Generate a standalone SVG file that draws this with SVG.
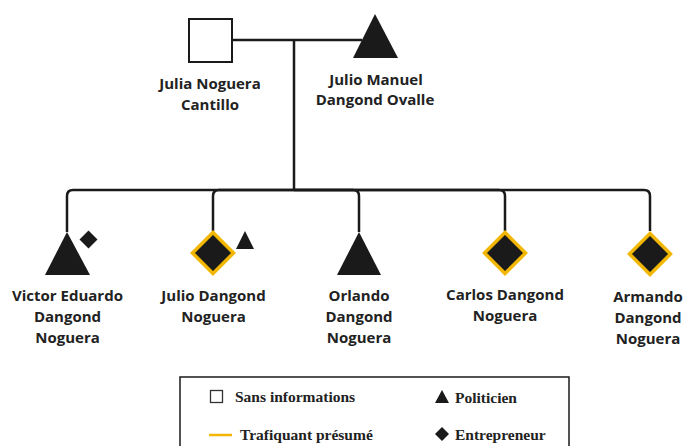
<svg xmlns="http://www.w3.org/2000/svg" width="684" height="446" viewBox="0 0 684 446">
<style>
.bg{fill:#ffffff}
.line{fill:none;stroke:#1a1a1a;stroke-width:2.5;stroke-linejoin:round}
.dark{fill:#1a1a1a}
.trafic{fill:#1a1a1a;stroke:#f2b705;stroke-width:3.5;stroke-linejoin:miter}
.empty{fill:#ffffff;stroke:#1a1a1a;stroke-width:2}
.name{font-family:"Open Sans","Noto Sans",sans-serif;font-weight:bold;font-size:15px;fill:#222222;text-anchor:middle}
.leg{font-family:"Liberation Serif","Times New Roman",serif;font-weight:bold;font-size:15.5px;fill:#222222}
</style>
<rect class="bg" x="0" y="0" width="684" height="446"/>
<g id="connectors">
<path class="line" d="M232,40 H362"/>
<path class="line" d="M294,40 V190"/>
<path class="line" d="M294,190 H73 Q67,190 67,196 V232"/>
<path class="line" d="M294,190 H219 Q213,190 213,196 V231"/>
<path class="line" d="M294,190 H353 Q359,190 359,196 V232"/>
<path class="line" d="M294,190 H499 Q505,190 505,196 V231"/>
<path class="line" d="M294,190 H644 Q650,190 650,196 V231"/>
</g>
<g id="julia">
<rect class="empty" x="189" y="19" width="43" height="43"/>
<text class="name" x="210" y="89">Julia Noguera</text>
<text class="name" x="210" y="110">Cantillo</text>
</g>
<g id="julio-manuel">
<polygon class="dark" points="375,14 353,58 398,58"/>
<text class="name" x="376" y="85">Julio Manuel</text>
<text class="name" x="375" y="105">Dangond Ovalle</text>
</g>
<g id="victor">
<polygon class="dark" points="67,232 45,275 90,275"/>
<polygon class="dark" points="88.5,230.5 97.5,239.5 88.5,248.5 79.5,239.5"/>
<text class="name" x="67.5" y="301">Victor Eduardo</text>
<text class="name" x="67.5" y="322">Dangond</text>
<text class="name" x="67.5" y="343">Noguera</text>
</g>
<g id="julio-dangond">
<polygon class="trafic" points="213,232.5 233.5,253 213,273.5 192.5,253"/>
<polygon class="dark" points="245,231 254,249 236,249"/>
<text class="name" x="213.5" y="301">Julio Dangond</text>
<text class="name" x="213.5" y="322">Noguera</text>
</g>
<g id="orlando">
<polygon class="dark" points="359,232 337,275 381,275"/>
<text class="name" x="359" y="301">Orlando</text>
<text class="name" x="359" y="322">Dangond</text>
<text class="name" x="359" y="343">Noguera</text>
</g>
<g id="carlos">
<polygon class="trafic" points="505,232.5 525.5,253 505,273.5 484.5,253"/>
<text class="name" x="505" y="300">Carlos Dangond</text>
<text class="name" x="505" y="321">Noguera</text>
</g>
<g id="armando">
<polygon class="trafic" points="650,233.5 670.5,254 650,274.5 629.5,254"/>
<text class="name" x="648" y="302">Armando</text>
<text class="name" x="648" y="323">Dangond</text>
<text class="name" x="648" y="344">Noguera</text>
</g>
<g id="legend">
<rect x="180" y="377" width="389" height="80" fill="#ffffff" stroke="#1a1a1a" stroke-width="1.5"/>
<rect x="210.5" y="390.5" width="12" height="12" fill="#ffffff" stroke="#333333" stroke-width="1.3"/>
<text class="leg" x="235" y="402">Sans informations</text>
<polygon class="dark" points="442,390 449,403 435,403"/>
<text class="leg" x="455" y="403">Politicien</text>
<line x1="209" y1="435" x2="232" y2="435" stroke="#f2b705" stroke-width="2.5"/>
<text class="leg" x="240" y="440">Trafiquant présumé</text>
<polygon class="dark" points="442,427 449,434 442,441 435,434"/>
<text class="leg" x="455" y="440">Entrepreneur</text>
</g>
</svg>
